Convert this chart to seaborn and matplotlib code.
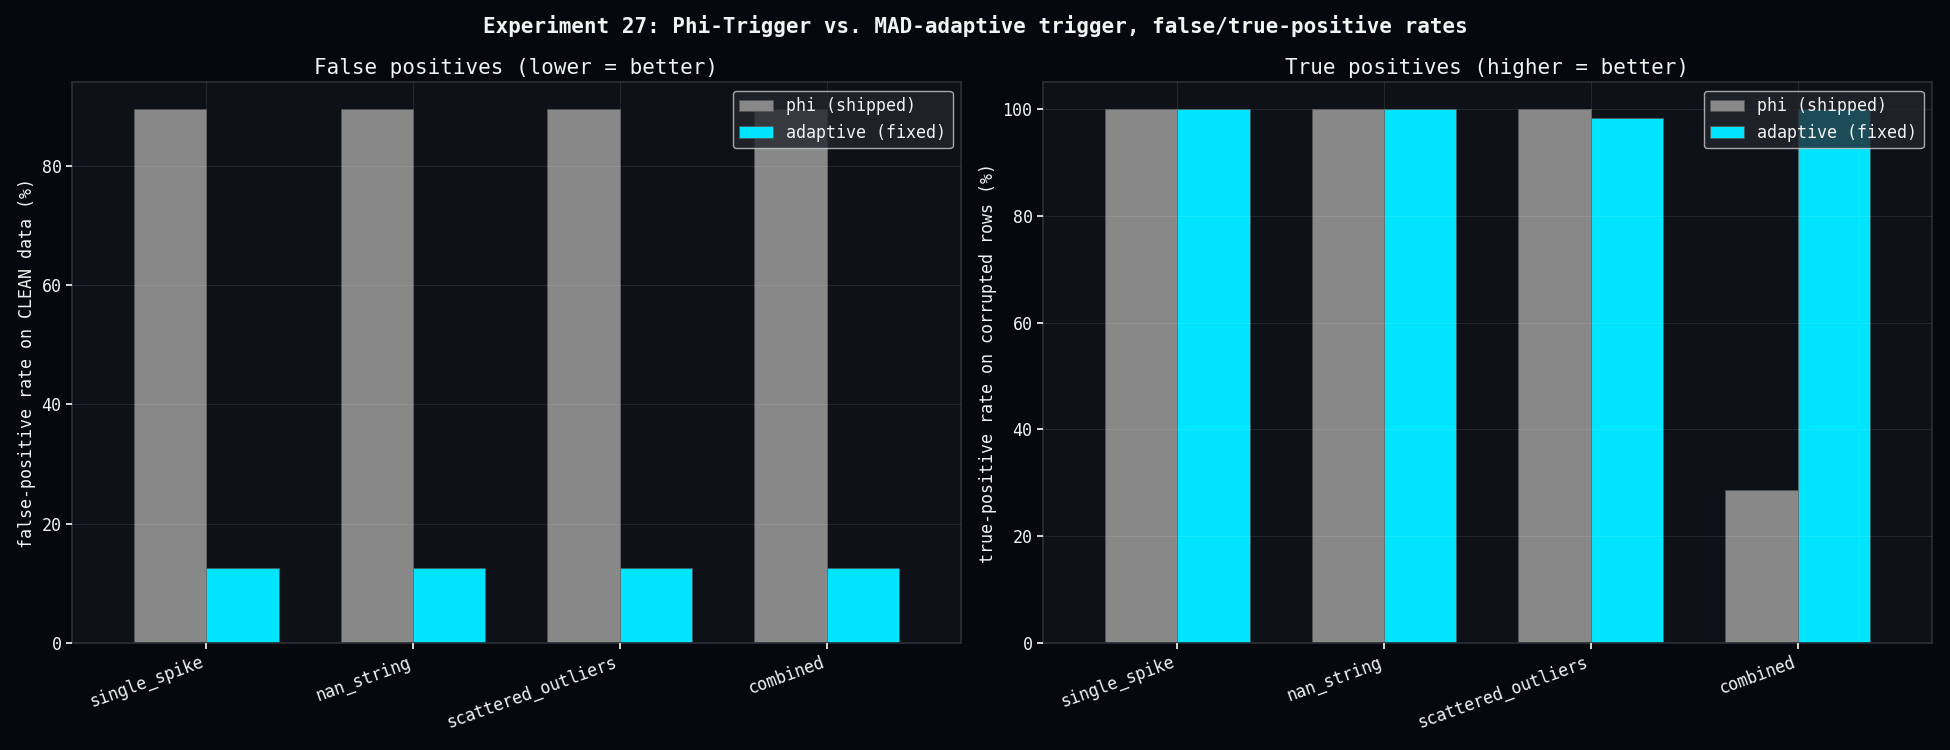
import numpy as np
import pandas as pd
import matplotlib
matplotlib.use("Agg")
import matplotlib.pyplot as plt
import seaborn as sns

# ---------------------------------------------------------------------------
# Data
# ---------------------------------------------------------------------------
scenarios = ["single_spike", "nan_string", "scattered_outliers", "combined"]
methods = ["phi (shipped)", "adaptive (fixed)"]
fp_phi = [89.5, 89.5, 89.5, 89.5]
fp_adaptive = [12.5, 12.5, 12.5, 12.5]
tp_phi = [100.0, 100.0, 100.0, 28.6]
tp_adaptive = [100.0, 100.0, 98.4, 100.0]

BG = "#05080c"
AX_BG = "#0e1118"
FG = "#f2f2f2"
palette = {"phi (shipped)": "#888888", "adaptive (fixed)": "#00e5ff"}

sns.set_theme(style="dark")
plt.rcParams["font.family"] = ["DejaVu Sans Mono", "DejaVu Sans"]
plt.rcParams.update({
    "figure.facecolor": BG, "axes.facecolor": AX_BG,
    "axes.edgecolor": "#2a2e36", "text.color": FG,
    "axes.labelcolor": FG, "xtick.color": FG, "ytick.color": FG,
})


def make_df(a, b):
    return pd.DataFrame({
        "scenario": scenarios * 2,
        "method": [methods[0]] * 4 + [methods[1]] * 4,
        "value": list(a) + list(b),
    })


fig, axes = plt.subplots(1, 2, figsize=(19.5, 7.5), dpi=100)
panels = [
    (axes[0], make_df(fp_phi, fp_adaptive), "False positives (lower = better)",
     "false-positive rate on CLEAN data (%)"),
    (axes[1], make_df(tp_phi, tp_adaptive), "True positives (higher = better)",
     "true-positive rate on corrupted rows (%)"),
]
for ax, df, title, ylabel in panels:
    sns.barplot(data=df, x="scenario", y="value", hue="method", palette=palette,
                width=0.7, saturation=1, ax=ax, edgecolor="#555555", linewidth=0.5)
    ax.set_axisbelow(False)
    ax.grid(True, color="#ffffff", alpha=0.09, linewidth=0.8)
    ax.set_xlim(-0.65, 3.65)
    ax.set_title(title, fontsize=15, color=FG)
    ax.set_xlabel("")
    ax.set_ylabel(ylabel, fontsize=12)
    ax.tick_params(axis="x", labelsize=12, rotation=20, bottom=True, length=4)
    ax.tick_params(axis="y", labelsize=12, left=True, length=4)
    for lab in ax.get_xticklabels():
        lab.set_ha("right")
    for s in ax.spines.values():
        s.set_color("#2a2e36")
    leg = ax.legend(loc="upper right", fontsize=12, facecolor="#23262d",
                    edgecolor="#cccccc", framealpha=0.8)
    for t in leg.get_texts():
        t.set_color(FG)

axes[1].set_ylim(0, 105)
fig.suptitle("Experiment 27: Phi-Trigger vs. MAD-adaptive trigger, false/true-positive rates",
             fontsize=15, fontweight="bold", color=FG)
fig.tight_layout()
fig.savefig("out.png", dpi=100, facecolor=BG)
plt.close(fig)
